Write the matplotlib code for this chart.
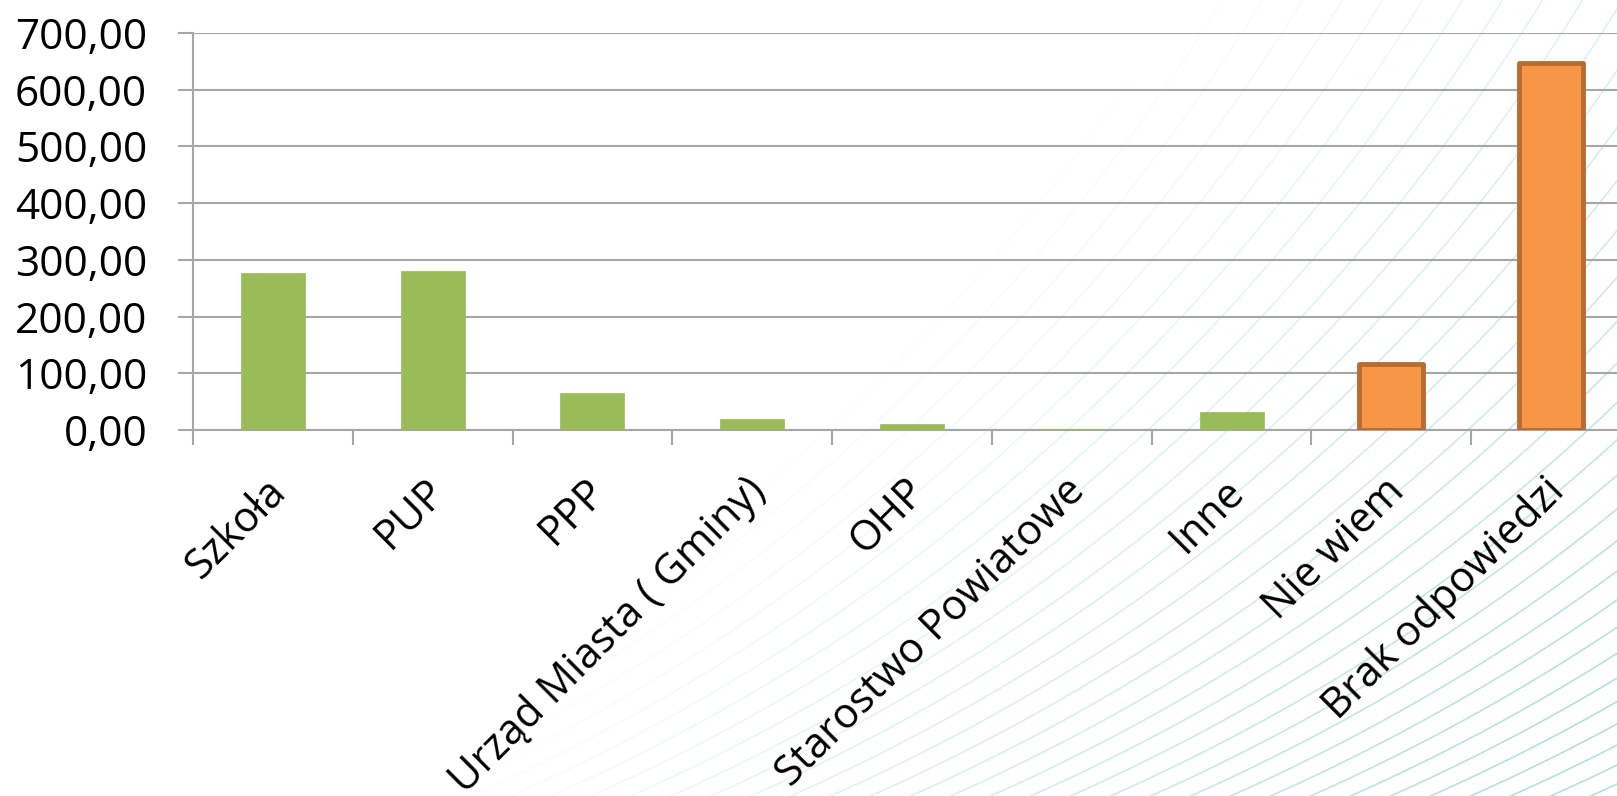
import numpy as np
import matplotlib
import matplotlib.pyplot as plt
from matplotlib.collections import LineCollection
from matplotlib.ticker import FuncFormatter
from matplotlib.transforms import ScaledTranslation

matplotlib.use("Agg")

categories = ["Szkoła", "PUP", "PPP", "Urząd Miasta ( Gminy)", "OHP",
              "Starostwo Powiatowe", "Inne", "Nie wiem", "Brak odpowiedzi"]
values = [277, 280, 65, 19, 11, 2, 32, 116, 647]
highlight = [False, False, False, False, False, False, False, True, True]
y_ticks = [0, 100, 200, 300, 400, 500, 600, 700]

plt.rcParams["font.family"] = ["Open Sans", "DejaVu Sans"]

W, H = 1617, 796
fig = plt.figure(figsize=(W / 100, H / 100), dpi=100)

# decorative background: faint sweeping arcs, stronger towards bottom-right
bg = fig.add_axes([0, 0, 1, 1], zorder=0)
bg.set_xlim(0, W)
bg.set_ylim(H, 0)
bg.axis("off")
R, yc = 2048, -1076
segs, cols = [], []
for xc in np.arange(-1800, 820, 40):
    t = np.linspace(np.deg2rad(15), np.deg2rad(65), 300)
    px = xc + R * np.sin(t)
    py = yc + R * np.cos(t)
    pts = np.column_stack([px, py])
    for i in range(len(pts) - 1):
        a, b = pts[i]
        if -20 < a < W + 20 and -20 < b < H + 20:
            w = np.clip(1.3 * a / W + 0.6 * b / H - 0.95, 0, 1)
            if w > 0.02:
                segs.append(pts[i:i + 2])
                cols.append((0.62, 0.85, 0.84, min(0.8, 0.95 * w)))
bg.add_collection(LineCollection(segs, colors=cols, linewidths=1.2))

ax = fig.add_axes([193 / W, (H - 430) / H, (1631 - 193) / W, (430 - 33) / H], zorder=1)
ax.patch.set_alpha(0)

x = np.arange(len(categories))
fills = ["#F79646" if h else "#9BBB59" for h in highlight]
edges = ["#B86C30" if h else "#9BBB59" for h in highlight]
lws = [3.5 if h else 0.5 for h in highlight]
bars = ax.bar(x, values, width=0.4, color=fills, edgecolor=edges, linewidth=lws, zorder=3)
for b in bars:
    b.set_joinstyle("round")

ax.set_xlim(-0.5, len(categories) - 0.5)
ax.set_ylim(0, 700)
ax.set_yticks(y_ticks)
ax.yaxis.set_major_formatter(FuncFormatter(lambda v, p: f"{v:.2f}".replace(".", ",")))
ax.grid(axis="y", color="#A6A6A6", linewidth=1.5, zorder=0)

ax.set_xticks(np.arange(len(categories) + 1) - 0.5)
ax.set_xticklabels([])
ax.tick_params(axis="x", which="major", length=11, width=1.5, color="#A6A6A6", direction="out")
ax.tick_params(axis="y", length=11, width=1.5, color="#A6A6A6", labelsize=30.5, pad=22)

# category labels, rotated 45 degrees and anchored at their right end
offset = ScaledTranslation(-8 / 100, -40 / 100, fig.dpi_scale_trans)
for xi, name in zip(x, categories):
    ax.text(xi, 0, name, transform=ax.get_xaxis_transform() + offset,
            rotation=45, rotation_mode="anchor", ha="right", va="top", fontsize=30)

for s in ["top", "right"]:
    ax.spines[s].set_visible(False)
ax.spines["left"].set_color("#A6A6A6")
ax.spines["left"].set_linewidth(1.5)
ax.spines["bottom"].set_color("#A6A6A6")
ax.spines["bottom"].set_linewidth(1.5)

fig.savefig("out.png", dpi=100)
